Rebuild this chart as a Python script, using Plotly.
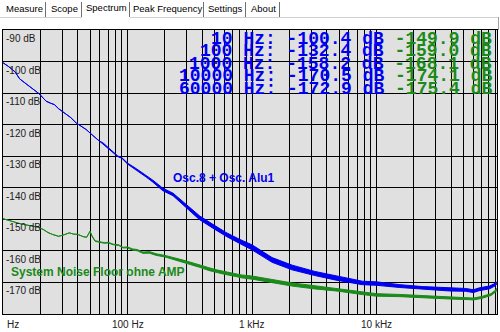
import plotly.graph_objects as go
import numpy as np

# ---- spectrum data (frequency in Hz, level in dB) ----
osc_freq = [10, 11, 12.5, 13.6, 15, 17, 19.6, 21, 22.2, 24, 25.9, 28, 31.2, 35, 38.7, 42,
            46.6, 52, 59.5, 63, 67.5, 75, 83.6, 90, 100, 118, 130, 141, 160, 192, 232,
            298, 379, 485, 620, 795, 1000, 1450, 2100, 3200, 4650, 7700, 10000, 15400,
            23500, 38500, 52000, 60000, 67000, 81000, 90000, 92500]
osc_level = [-100.4, -101.5, -103.3, -105.5, -106.8, -108.5, -110.3, -111.6, -112.6, -113.2,
             -113.7, -115.0, -116.3, -117.8, -119.5, -120.4, -121.6, -123.3, -125.3, -125.8,
             -126.9, -128.4, -130.1, -130.6, -132.4, -134.3, -135.4, -136.4, -138.0, -140.6,
             -142.2, -145.9, -149.6, -152.3, -154.9, -157.1, -159.0, -163.0, -165.4, -167.3,
             -168.7, -170.3, -170.5, -171.3, -171.9, -172.4, -172.5, -172.9, -172.3, -171.7,
             -170.8, -170.3]
# half-width of the noise band around each level (dB)
osc_spread = [0, 0, 0, 0, 0, 0, 0, 0, 0, 0, 0, 0, 0, 0, 0, 0,
              0, 0, 0, 0.1, 0.1, 0.1, 0.1, 0.1, 0.15, 0.25, 0.25, 0.25, 0.3, 0.4, 0.4,
              0.45, 0.6, 0.6, 0.6, 0.65, 0.8, 0.75, 0.75, 0.65, 0.65, 0.55, 0.55, 0.45,
              0.45, 0.45, 0.45, 0.45, 0.45, 0.45, 0.4, 0.4]

floor_freq = [10, 12, 14, 17, 19, 21, 23, 25, 28, 31, 34, 37, 40, 44, 47, 50, 52, 55, 60,
              65, 70, 77, 85, 92, 100, 110, 120, 133, 150, 170, 200, 240, 280, 330, 380,
              450, 520, 600, 700, 820, 1000, 1450, 2100, 3200, 4900, 7700, 10000, 15400,
              23500, 38500, 55000, 60000, 70000, 83000, 91000, 92500]
floor_level = [-149.9, -150.8, -151.6, -152.2, -152.6, -153.3, -154.3, -154.9, -155.5, -155.0,
               -154.4, -154.8, -154.9, -155.6, -155.8, -153.9, -155.5, -157.0, -157.2, -157.6,
               -157.5, -158.1, -158.3, -159.1, -159.0, -159.7, -159.9, -160.7, -160.6, -161.3,
               -161.8, -162.6, -163.4, -164.2, -165.0, -165.9, -166.6, -167.1, -167.6, -168.2,
               -168.6, -169.7, -170.8, -171.7, -172.5, -173.6, -174.1, -174.3, -174.7, -175.1,
               -175.3, -175.4, -174.9, -174.0, -172.8, -172.3]
floor_spread = [0, 0, 0, 0, 0, 0, 0, 0, 0, 0, 0, 0, 0, 0, 0, 0, 0.1, 0.1, 0.1,
                0.1, 0.1, 0.1, 0.1, 0.1, 0.15, 0.2, 0.2, 0.2, 0.25, 0.25, 0.25, 0.35, 0.35,
                0.35, 0.35, 0.45, 0.45, 0.45, 0.45, 0.45, 0.5, 0.5, 0.5, 0.5, 0.4, 0.4, 0.4,
                0.35, 0.35, 0.3, 0.3, 0.3, 0.3, 0.3, 0.3, 0.3]

# readout table
readout_freq = [10, 100, 1000, 10000, 60000]
readout_osc = [-100.4, -132.4, -158.2, -170.5, -172.9]
readout_floor = [-149.9, -159.0, -168.1, -174.1, -175.4]

y_ticks = [-90, -100, -110, -120, -130, -140, -150, -160, -170]
x_labels = [(10, "Hz"), (100, "100 Hz"), (1000, "1 kHz"), (10000, "10 kHz")]
tabs = ["Measure", "Scope", "Spectrum", "Peak Frequency", "Settings", "About"]

BLUE = "#0000f0"
GREEN = "#1a8a1a"

# ---- layout geometry (pixels) ----
FW, FH = 500, 332
ML, MR, MT, MB = 3, 3, 30, 18
PW, PH = FW - ML - MR, FH - MT - MB


def px_x(x):
    return (x - ML) / PW


def px_y(y):
    return 1 - (y - MT) / PH


fig = go.Figure()


def add_band(freq, level, spread, color):
    lo = [l - s for l, s in zip(level, spread)]
    hi = [l + s for l, s in zip(level, spread)]
    fig.add_trace(go.Scatter(x=freq, y=lo, mode="lines",
                             line=dict(color=color, width=1), hoverinfo="skip"))
    fig.add_trace(go.Scatter(x=freq, y=hi, mode="lines", fill="tonexty",
                             fillcolor=color, line=dict(color=color, width=1),
                             hoverinfo="skip"))


add_band(floor_freq, floor_level, floor_spread, GREEN)
add_band(osc_freq, osc_level, osc_spread, BLUE)

# grid lines at 1..9 x each decade
grid_x = [m * d for d in (10, 100, 1000, 10000) for m in range(1, 10) if m * d < 93000]

x_min = 1.0
x_max = 1.0 + PW / 124.5
y_top = -90
y_bot = -90 - PH / 3.15

fig.update_layout(
    width=FW, height=FH,
    margin=dict(l=ML, r=MR, t=MT, b=MB, pad=0),
    paper_bgcolor="white",
    plot_bgcolor="#e0e0e0",
    showlegend=False,
    xaxis=dict(type="log", range=[x_min, x_max], tickvals=grid_x,
               showticklabels=False, ticks="", showgrid=True,
               gridcolor="#000000", gridwidth=1, zeroline=False,
               showline=True, linecolor="#000000", linewidth=1, mirror=True),
    yaxis=dict(range=[y_bot, y_top], tickvals=y_ticks, showticklabels=False,
               ticks="", showgrid=True, gridcolor="#000000", gridwidth=1,
               zeroline=False, showline=True, linecolor="#000000",
               linewidth=1, mirror=True),
)

ann = []
small = dict(family="Liberation Sans, Arial, sans-serif", size=10, color="#202020")

# dB labels inside the plot, just below each grid line
for v in y_ticks:
    ann.append(dict(x=0, xref="paper", y=v, yref="y", text=f"{v} dB",
                    showarrow=False, xanchor="left", yanchor="top",
                    xshift=1, yshift=-1, font=small))

# frequency labels below the plot
for f, t in x_labels:
    ann.append(dict(x=np.log10(f), xref="x", y=0, yref="paper", text=t,
                    showarrow=False, xanchor="left" if f == 10 else "center",
                    yanchor="top", xshift=2 if f == 10 else 0, yshift=-3,
                    font=small))

# readout table, right aligned
mono = dict(family="Liberation Mono, Courier New, monospace", size=18, color=BLUE)
for i, (f, a, b) in enumerate(zip(readout_freq, readout_osc, readout_floor)):
    txt = (f"<b>{f} Hz: {a:.1f} dB "
           f"<span style='color:{GREEN}'>{b:.1f} dB</span></b>")
    ann.append(dict(x=px_x(494), xref="paper", y=px_y(38.5 + 12.5 * i), yref="paper",
                    text=txt, showarrow=False, xanchor="right", yanchor="middle",
                    font=mono))

# curve captions
label_font = "Liberation Sans, Arial, sans-serif"
ann.append(dict(x=np.log10(225), xref="x", y=-137.1, yref="y",
                text="<b>Osc.8 + Osc. Alu1</b>", showarrow=False,
                xanchor="left", yanchor="middle",
                font=dict(family=label_font, size=12, color=BLUE)))
ann.append(dict(x=np.log10(11.1), xref="x", y=-166.9, yref="y",
                text="<b>System Noise Floor ohne AMP</b>", showarrow=False,
                xanchor="left", yanchor="middle",
                font=dict(family=label_font, size=12, color=GREEN)))

# tab strip
tab_font = dict(family="Liberation Sans, Arial, sans-serif", size=9.5, color="#000000")
tab_edges = [2, 45, 81, 129, 203, 245, 279]
shapes = []
for i, name in enumerate(tabs):
    x0, x1 = tab_edges[i], tab_edges[i + 1]
    selected = name == "Spectrum"
    ann.append(dict(x=px_x((x0 + x1) / 2 + 1), xref="paper",
                    y=px_y(7.5 if selected else 9), yref="paper", text=name,
                    showarrow=False, xanchor="center", yanchor="middle",
                    font=tab_font))
    shapes.append(dict(type="line", xref="paper", yref="paper",
                       x0=px_x(x1 + 0.5), x1=px_x(x1 + 0.5),
                       y0=px_y(2), y1=px_y(17), line=dict(color="#707070", width=1)))
shapes.append(dict(type="line", xref="paper", yref="paper",
                   x0=px_x(0), x1=px_x(82), y0=px_y(17.5), y1=px_y(17.5),
                   line=dict(color="#d0d0d0", width=1)))
shapes.append(dict(type="line", xref="paper", yref="paper",
                   x0=px_x(130), x1=px_x(499), y0=px_y(17.5), y1=px_y(17.5),
                   line=dict(color="#d0d0d0", width=1)))
shapes.append(dict(type="line", xref="paper", yref="paper",
                   x0=px_x(498.5), x1=px_x(498.5), y0=px_y(17), y1=px_y(30),
                   line=dict(color="#a0a0a0", width=1)))

fig.update_layout(annotations=ann, shapes=shapes)
fig.write_html("out.html")
